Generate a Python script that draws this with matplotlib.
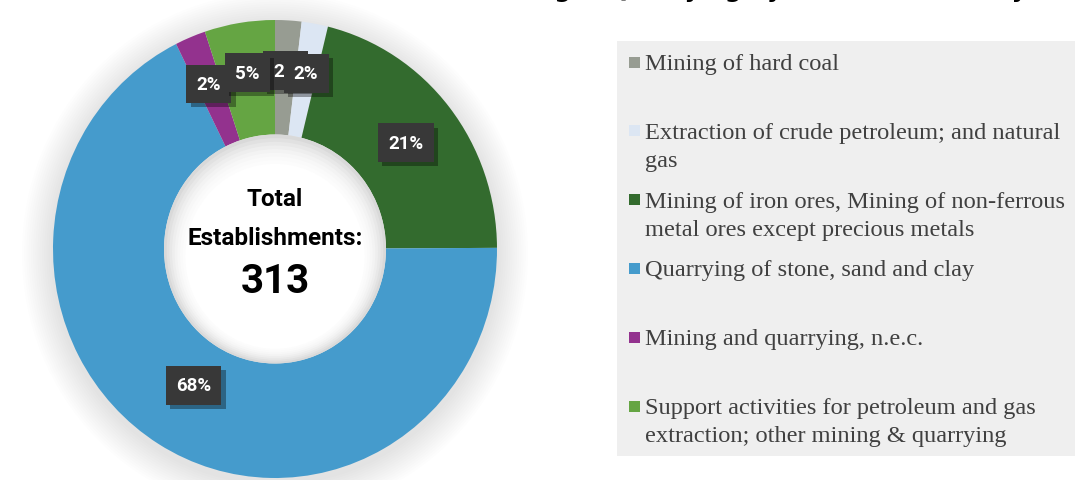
import math
import matplotlib.pyplot as plt
from matplotlib.patches import Circle, Rectangle
from matplotlib import patheffects as pe

categories = [
    "Mining of hard coal",
    "Extraction of crude petroleum; and natural\ngas",
    "Mining of iron ores, Mining of non-ferrous\nmetal ores except precious metals",
    "Quarrying of stone, sand and clay",
    "Mining and quarrying, n.e.c.",
    "Support activities for petroleum and gas\nextraction; other mining & quarrying",
]
establishments = [6, 6, 66, 212, 7, 16]
colors = ["#979c92", "#dce6f3", "#336b2e", "#459bcc", "#93328e", "#65a543"]

total = sum(establishments)
shares = [round(100 * v / total) for v in establishments]

W, H = 1075, 481
fig = plt.figure(figsize=(W / 100, H / 100), dpi=100)
fig.patch.set_facecolor("white")


def px_axes(x0, y0, w, h):
    # axes placed by pixel box, origin top-left
    return fig.add_axes([x0 / W, 1 - (y0 + h) / H, w / W, h / H])


# ---- donut ----
cx, cy, rx, ry, span = 275, 250, 222, 229, 1.3
ax = px_axes(cx - rx * span, cy - ry * span, 2 * rx * span, 2 * ry * span)
ax.axis("off")

# soft halo around the ring
n = 14
for k in range(n):
    r = 1.0 + 0.14 * (k + 1) / n
    ax.add_patch(Circle((0, -0.02), r, facecolor="black", edgecolor="none",
                        alpha=0.009, zorder=0))

wedges, _ = ax.pie(establishments, colors=colors, startangle=90,
                   counterclock=False, radius=1.0,
                   wedgeprops=dict(width=0.5, edgecolor="none"))
for w in wedges:
    w.set_zorder(2)
ax.set_aspect("auto")
ax.set_xlim(-span, span)
ax.set_ylim(-span, span)

# hole with inner shadow
hole_steps = ["#d9d9d9", "#e1e1e1", "#e8e8e8", "#eeeeee", "#f3f3f3",
              "#f7f7f7", "#fafafa", "#fcfcfc", "#ffffff"]
for i, c in enumerate(hole_steps):
    r = 0.5 - i * 0.012
    ax.add_patch(Circle((0, -0.004 * i), r, facecolor=c, edgecolor="none",
                        zorder=3))

# percentage tags
label_r = [0.78, 0.78, 0.75, 0.70, 0.78, 0.78]
start = 90.0
for i, (v, s) in enumerate(zip(establishments, shares)):
    sweep = 360.0 * v / total
    th = math.radians(start - sweep / 2)
    start -= sweep
    t = ax.text(label_r[i] * math.cos(th), label_r[i] * math.sin(th),
                f"{s}%", ha="center", va="center", color="white",
                fontsize=13.5, fontfamily="Roboto", fontweight="bold",
                zorder=10 + i,
                bbox=dict(boxstyle="square,pad=0.55", facecolor="#383838",
                          edgecolor="none"))
    t.get_bbox_patch().set_path_effects(
        [pe.SimplePatchShadow(offset=(3, -3), shadow_rgbFace="black",
                              alpha=0.35), pe.Normal()])

center_lines = [("Total", 200, 17.5), ("Establishments:", 239, 17.5),
                (f"{total}", 282, 29)]
for txt, yy, fs in center_lines:
    ax.text(0, (cy - yy) / ry, txt, ha="center", va="center", fontsize=fs,
            fontfamily="Roboto", fontweight="bold", color="black", zorder=20)

# ---- legend panel ----
lax = px_axes(0, 0, W, H)
lax.set_xlim(0, W)
lax.set_ylim(H, 0)
lax.axis("off")
lax.add_patch(Rectangle((617, 42), W - 617, 415, facecolor="#efefef",
                        edgecolor="none"))
row_gap = 68.8
line_gap = 28
for i, (name, c) in enumerate(zip(categories, colors)):
    base = 70 + i * row_gap
    lax.add_patch(Rectangle((629, base - 12.5), 11, 11, facecolor=c,
                            edgecolor="none"))
    for j, line in enumerate(name.split("\n")):
        lax.text(645, base + j * line_gap, line, ha="left", va="baseline",
                 fontsize=17.6, fontfamily="Liberation Serif",
                 color="#404040")

# title, mostly cut off by the top edge
lax.text(1027, -3, "Mining & Quarrying by Economic Activity", ha="right",
         va="baseline", fontsize=17, fontweight="bold", color="black")

fig.savefig("out.png", dpi=100)
